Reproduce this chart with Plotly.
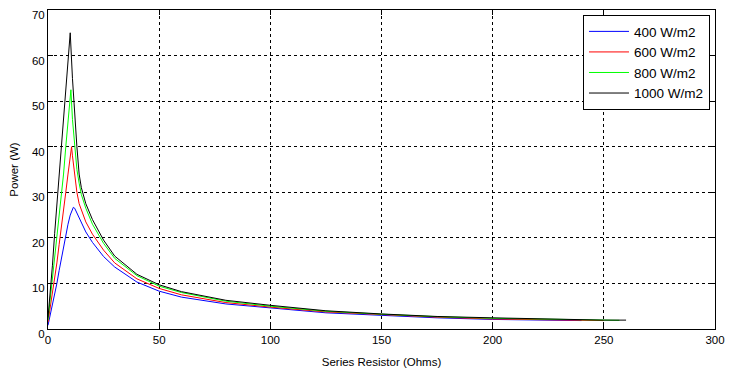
import plotly.graph_objects as go

# Series resistor values (Ohms) and power (W) per irradiance curve
r_400 = [0, 1, 2, 3, 4, 5, 6, 7, 8, 9, 10, 11.4, 12, 13, 14, 15, 17, 20, 25, 30, 40, 50, 60, 80, 100, 125, 150, 175, 200, 225, 240]
p_400 = [0.8, 3, 5.2, 7.7, 10, 12.8, 15.5, 18.5, 20.5, 23, 25, 26.7, 26.5, 25.5, 24.3, 23.2, 21.3, 19, 15.9, 13.6, 10.3, 8.3, 7.0, 5.5, 4.6, 3.55, 3.0, 2.45, 2.1, 1.9, 1.85]

r_600 = [0, 1, 2, 3, 4, 5, 6, 7, 8, 9, 10, 10.6, 11, 12, 13, 14, 15, 17, 20, 25, 30, 40, 50, 60, 80, 100, 125, 150, 175, 200, 225, 250]
p_600 = [1.5, 4.5, 7.5, 10.5, 14.5, 18.5, 22, 26, 30, 34, 38, 40, 38, 34, 30, 27.5, 26, 23.5, 20.8, 17.3, 14.5, 11, 8.9, 7.5, 5.8, 4.8, 3.75, 3.1, 2.6, 2.2, 2.0, 1.85]

r_800 = [0, 1, 2, 3, 4, 5, 6, 7, 8, 9, 10.3, 11, 12, 13, 14, 15, 17, 20, 25, 30, 40, 50, 60, 80, 100, 125, 150, 175, 200, 225, 250, 257]
p_800 = [2, 6.5, 10.5, 15, 19.5, 24, 29, 34, 40, 46, 52.5, 46, 40, 35, 32, 29.5, 26.5, 23, 18.8, 15.5, 11.7, 9.4, 8.0, 6.1, 5.0, 3.9, 3.25, 2.7, 2.35, 2.1, 1.9, 1.9]

r_1000 = [0, 1, 2, 3, 4, 5, 6, 7, 8, 9, 10, 11, 12, 13, 14, 15, 17, 20, 25, 30, 40, 50, 60, 80, 100, 125, 150, 175, 200, 225, 250, 260]
p_1000 = [2.5, 8, 14, 21, 27, 33, 39, 45, 52, 58, 65, 55, 46, 40, 34, 31, 27.5, 24, 19.5, 16, 12, 9.7, 8.2, 6.3, 5.2, 4.0, 3.3, 2.75, 2.45, 2.15, 1.95, 1.95]

series_names = ["400 W/m2", "600 W/m2", "800 W/m2", "1000 W/m2"]
series_x = [r_400, r_600, r_800, r_1000]
series_y = [p_400, p_600, p_800, p_1000]
series_colors = ["#0000ff", "#ff0000", "#00ff00", "#000000"]

x_ticks = [0, 50, 100, 150, 200, 250, 300]
y_ticks = [0, 10, 20, 30, 40, 50, 60, 70]

fig = go.Figure()
for name, xs, ys, color in zip(series_names, series_x, series_y, series_colors):
    fig.add_trace(go.Scatter(x=xs, y=ys, mode="lines", name=name, legendgroup=name,
                             line=dict(color=color, width=1)))

FAM = "Liberation Sans, Arial, sans-serif"
tick_font = dict(family=FAM, size=11.5, color="black")
title_font = dict(family=FAM, size=11.5, color="black")
axis_common = dict(
    showline=True, linecolor="black", linewidth=1, mirror="ticks",
    ticks="inside", ticklen=5, tickcolor="black", tickwidth=1,
    showgrid=True, gridcolor="black", gridwidth=1, griddash="3px,3px",
    zeroline=False, tickfont=tick_font, automargin=False,
    ticklabeloverflow="allow",
)

fig.update_layout(
    width=734, height=378,
    margin=dict(l=40, r=27, t=2, b=57),
    paper_bgcolor="white", plot_bgcolor="white",
    font=tick_font,
    xaxis=dict(range=[0, 300], tickvals=x_ticks,
               title=dict(text="Series Resistor (Ohms)", font=title_font, standoff=13),
               **axis_common),
    yaxis=dict(range=[0, 70], tickvals=y_ticks, ticklabelshift=5,
               title=dict(text="Power (W)", font=title_font, standoff=15),
               **axis_common),
    legend=dict(x=0.9925, y=0.984, xanchor="right", yanchor="top",
                bgcolor="white", bordercolor="black", borderwidth=1,
                font=dict(family=FAM, size=13.5, color="black"),
                tracegroupgap=0, itemwidth=40),
    showlegend=True,
)

fig.write_html("out.html")
